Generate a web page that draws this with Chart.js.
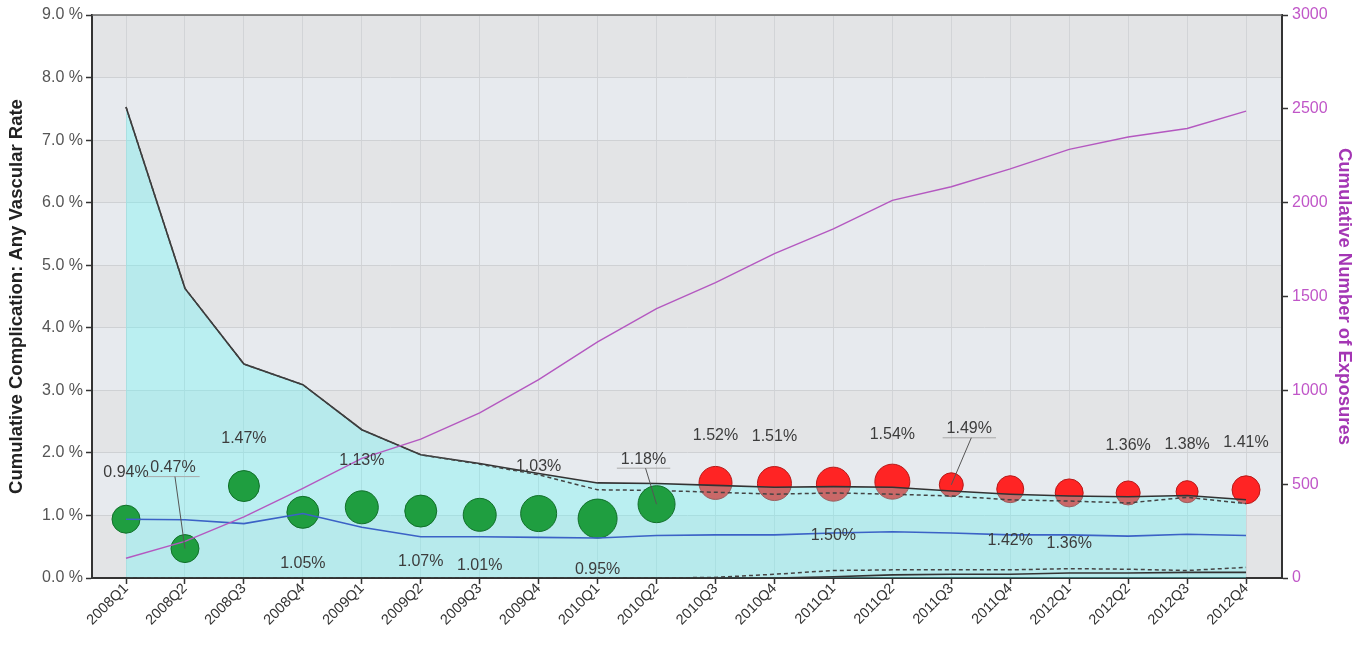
<!DOCTYPE html>
<html>
<head>
<meta charset="utf-8">
<script src="https://cdn.jsdelivr.net/npm/chart.js@4.4.1/dist/chart.umd.min.js"></script>
<style>
html, body { margin: 0; padding: 0; background: #ffffff; }
canvas { display: block; }
</style>
</head>
<body>
<canvas id="c" width="1367" height="646"></canvas>
<script>
// ---------- data ----------
const categories = ['2008Q1','2008Q2','2008Q3','2008Q4','2009Q1','2009Q2','2009Q3','2009Q4','2010Q1','2010Q2',
                    '2010Q3','2010Q4','2011Q1','2011Q2','2011Q3','2011Q4','2012Q1','2012Q2','2012Q3','2012Q4'];
const upperLimit  = [7.53, 4.63, 3.42, 3.09, 2.37, 1.97, 1.83, 1.67, 1.52, 1.51, 1.48, 1.45, 1.46, 1.45, 1.39, 1.34, 1.31, 1.30, 1.32, 1.25];
const upperWarn   = [7.53, 4.63, 3.42, 3.09, 2.37, 1.97, 1.82, 1.65, 1.41, 1.40, 1.37, 1.34, 1.36, 1.34, 1.31, 1.25, 1.23, 1.20, 1.29, 1.19];
const expectedRate= [0.94, 0.93, 0.87, 1.03, 0.81, 0.66, 0.66, 0.65, 0.64, 0.68, 0.69, 0.69, 0.72, 0.74, 0.72, 0.69, 0.69, 0.67, 0.70, 0.68];
const lowerWarn   = [0, 0, 0, 0, 0, 0, 0, 0, 0, 0, 0.01, 0.06, 0.12, 0.13, 0.13, 0.13, 0.15, 0.14, 0.12, 0.17];
const lowerLimit  = [0, 0, 0, 0, 0, 0, 0, 0, 0, 0, 0, 0, 0.02, 0.05, 0.06, 0.06, 0.08, 0.08, 0.09, 0.09];
const exposures   = [105, 195, 326, 478, 637, 740, 880, 1057, 1258, 1435, 1574, 1728, 1860, 2012, 2085, 2180, 2284, 2350, 2395, 2488];
const observedRate= [0.94, 0.47, 1.47, 1.05, 1.13, 1.07, 1.01, 1.03, 0.95, 1.18, 1.52, 1.51, 1.50, 1.54, 1.49, 1.42, 1.36, 1.36, 1.38, 1.41];
const bubbleSize  = [14, 14, 15.5, 16, 16.5, 16, 16.5, 18, 19.5, 18.5, 16.5, 17, 17, 17.5, 12, 13.5, 14, 12, 11, 14];
const alertFlag   = [0, 0, 0, 0, 0, 0, 0, 0, 0, 0, 1, 1, 1, 1, 1, 1, 1, 1, 1, 1];
const pctTicks    = [0, 1, 2, 3, 4, 5, 6, 7, 8, 9];
const exposureTicks = [0, 500, 1000, 1500, 2000, 2500, 3000];

// ---------- helpers ----------
const pts = arr => arr.map((v, i) => ({ x: i, y: v }));
const bubbles = flag => observedRate
  .map((v, i) => ({ x: i, y: v, r: bubbleSize[i], f: alertFlag[i] }))
  .filter(d => d.f === flag);

Chart.defaults.font.family = '"Liberation Sans", Arial, Helvetica, sans-serif';

const bandPlugin = {
  id: 'bands',
  beforeDraw(chart) {
    const { ctx, chartArea: a, scales: { y } } = chart;
    ctx.save();
    for (let i = 0; i < pctTicks.length - 1; i++) {
      const top = y.getPixelForValue(pctTicks[i + 1]);
      const bot = y.getPixelForValue(pctTicks[i]);
      ctx.fillStyle = (i % 2 === 0) ? '#e3e4e6' : '#e7eaee';
      ctx.fillRect(a.left, top, a.right - a.left, bot - top);
    }
    ctx.restore();
  },
  afterDraw(chart) {
    const { ctx, chartArea: a } = chart;
    ctx.save();
    ctx.strokeStyle = '#666';
    ctx.lineWidth = 1.5;
    ctx.beginPath();
    ctx.moveTo(a.left, a.top);
    ctx.lineTo(a.right, a.top);
    ctx.stroke();
    ctx.restore();
  }
};

const labelPlugin = {
  id: 'rateLabels',
  afterDatasetsDraw(chart, args, opts) {
    const ctx = chart.ctx;
    ctx.save();
    ctx.font = '16px "Liberation Sans", Arial, sans-serif';
    ctx.textAlign = 'center';
    ctx.textBaseline = 'middle';
    chart.data.datasets.forEach((ds, di) => {
      if (ds.type !== 'bubble') return;
      const meta = chart.getDatasetMeta(di);
      meta.data.forEach((el, j) => {
        const idx = ds.data[j].x;
        const place = opts.placement[idx];
        const text = observedRate[idx].toFixed(2) + '%';
        let tx = el.x, ty = el.y;
        if (place === 'above') ty -= opts.above;
        else if (place === 'below') ty += opts.below;
        else {
          const off = opts.leaders[idx];
          tx += off[0]; ty += off[1];
          const w = ctx.measureText(text).width;
          const uy = ty + 9;
          ctx.strokeStyle = '#a8a8a8';
          ctx.lineWidth = 1;
          ctx.beginPath();
          ctx.moveTo(tx - w / 2 - 4, uy);
          ctx.lineTo(tx + w / 2 + 4, uy);
          ctx.stroke();
          ctx.strokeStyle = '#555';
          ctx.beginPath();
          ctx.moveTo(tx + 2, uy);
          ctx.lineTo(el.x, el.y);
          ctx.stroke();
        }
        ctx.fillStyle = '#3c3c3c';
        ctx.fillText(text, tx, ty);
      });
    });
    ctx.restore();
  }
};

new Chart(document.getElementById('c'), {
  data: {
    datasets: [
      { type: 'bubble', label: 'Observed (alert)', data: bubbles(1), yAxisID: 'y',
        backgroundColor: '#ff2424', borderColor: '#b81818', borderWidth: 1, order: 10 },
      { type: 'line', label: 'Upper limit', data: pts(upperLimit), yAxisID: 'y',
        borderColor: '#333', borderWidth: 1.6, pointRadius: 0, tension: 0,
        fill: 'origin', backgroundColor: 'rgba(90,249,249,0.32)', order: 9 },
      { type: 'line', label: 'Upper warning', data: pts(upperWarn), yAxisID: 'y',
        borderColor: '#444', borderWidth: 1.5, borderDash: [4, 3], pointRadius: 0, fill: false, order: 8 },
      { type: 'line', label: 'Lower warning', data: pts(lowerWarn), yAxisID: 'y',
        borderColor: '#444', borderWidth: 1.5, borderDash: [4, 3], pointRadius: 0, fill: false, order: 7 },
      { type: 'line', label: 'Lower limit', data: pts(lowerLimit), yAxisID: 'y',
        borderColor: '#333', borderWidth: 1.6, pointRadius: 0, fill: false, order: 6 },
      { type: 'bubble', label: 'Observed', data: bubbles(0), yAxisID: 'y',
        backgroundColor: '#1f9e40', borderColor: '#11702a', borderWidth: 1, order: 5 },
      { type: 'line', label: 'Expected', data: pts(expectedRate), yAxisID: 'y',
        borderColor: '#3b62c6', borderWidth: 1.6, pointRadius: 0, fill: false, order: 4 },
      { type: 'line', label: 'Exposures', data: pts(exposures), yAxisID: 'y1',
        borderColor: '#b458c0', borderWidth: 1.4, pointRadius: 0, fill: false, order: 3 }
    ]
  },
  options: {
    responsive: false,
    animation: false,
    devicePixelRatio: 1,
    layout: { autoPadding: false, padding: { top: 15, left: 0, right: 0, bottom: 0 } },
    plugins: {
      legend: { display: false },
      tooltip: { enabled: false },
      rateLabels: {
        above: 47,
        below: 51,
        placement: ['above','leader','above','below','above','below','below','above','below','leader',
                    'above','above','below','above','leader','below','below','above','above','above'],
        leaders: { 1: [-12, -81], 9: [-13, -45], 14: [18, -56] }
      }
    },
    scales: {
      x: {
        type: 'linear',
        min: -0.577,
        max: 19.61,
        afterBuildTicks: s => { s.ticks = categories.map((_, i) => ({ value: i })); },
        afterFit: s => { s.height = 68; s.paddingLeft = 0; s.paddingRight = 0; },
        ticks: {
          callback: v => categories[v],
          autoSkip: false,
          maxRotation: 45,
          minRotation: 45,
          color: '#333',
          font: { size: 14.5 },
          padding: -4
        },
        grid: { color: '#d2d4d7', lineWidth: 1, tickLength: 6, tickColor: '#333', tickWidth: 1.5 },
        border: { color: '#333', width: 2 }
      },
      y: {
        type: 'linear',
        position: 'left',
        min: 0,
        max: 9,
        afterBuildTicks: s => { s.ticks = pctTicks.map(v => ({ value: v })); },
        afterFit: s => { s.width = 92; s.paddingTop = 0; s.paddingBottom = 0; },
        ticks: {
          callback: v => v.toFixed(1) + ' %',
          color: '#555',
          font: { size: 16 },
          padding: 3
        },
        grid: { color: '#cfd1d4', lineWidth: 1, tickLength: 6, tickColor: '#333', tickWidth: 1.5 },
        border: { color: '#333', width: 2 },
        title: {
          display: true,
          text: 'Cumulative Complication: Any Vascular Rate',
          color: '#222',
          font: { size: 18.5, weight: 'bold' },
          padding: { top: 6, bottom: 0 }
        }
      },
      y1: {
        type: 'linear',
        position: 'right',
        min: 0,
        max: 3000,
        afterBuildTicks: s => { s.ticks = exposureTicks.map(v => ({ value: v })); },
        afterFit: s => { s.width = 85; s.paddingTop = 0; s.paddingBottom = 0; },
        ticks: {
          callback: v => String(v),
          color: '#c056c8',
          font: { size: 16 },
          padding: 4
        },
        grid: { drawOnChartArea: false, tickLength: 6, tickColor: '#333', tickWidth: 1.5 },
        border: { color: '#333', width: 2 },
        title: {
          display: true,
          text: 'Cumulative Number of Exposures',
          color: '#a436b4',
          font: { size: 18.5, weight: 'bold' },
          padding: { top: 12, bottom: 0 }
        }
      }
    }
  },
  plugins: [bandPlugin, labelPlugin]
});
</script>
</body>
</html>
